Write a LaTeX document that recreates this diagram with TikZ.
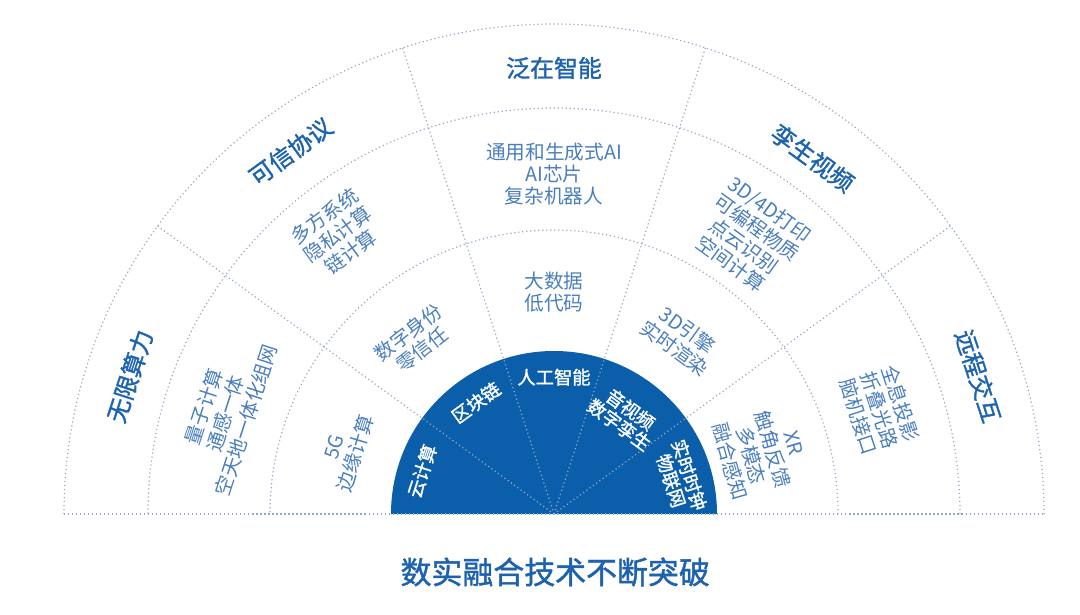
\documentclass[tikz,border=0pt]{standalone}
\usepackage{fontspec}
\setmainfont{Noto Sans CJK SC}
\newfontfamily\cjkmedium[FakeBold=1.4]{Noto Sans CJK SC}
\definecolor{fanblue}{HTML}{0A5EAA}
\definecolor{outerblue}{HTML}{1E63AD}
\definecolor{ringblue}{HTML}{4A7EBD}
\definecolor{titleblue}{HTML}{1C62AE}
\definecolor{dotgrey}{HTML}{93A8C6}
\begin{document}
\begin{tikzpicture}[
  dotline/.style={draw=dotgrey, dotted, line width=0.85pt},
  outerlabel/.style={text=outerblue, font=\cjkmedium\fontsize{17}{19}\selectfont, align=center},
  ringlabel/.style={text=ringblue, font=\fontsize{14}{15.8}\selectfont, align=center},
  corelabel/.style={text=white, font=\cjkmedium\fontsize{13}{13.5}\selectfont, align=center}]
\useasboundingbox (-13.85,-2.5) rectangle (13.15,12.85);

% core half disc
\fill[fanblue] (4.075,0) arc[start angle=0, end angle=180, radius=4.075] -- cycle;

% rings and spokes
\foreach \r in {7.1,10.15,12.25}
  \draw[dotline] (\r,0) arc[start angle=0, end angle=180, radius=\r];
\foreach \a in {36,72,108,144}
  \draw[dotline] (0,0) -- (\a:12.25);
\draw[dotline] (-12.25,0) -- (12.25,0);

% outer ring
\node[outerlabel, rotate=72] (suanli) at (162:11.15) {无限算力};
\node[outerlabel, rotate=36] (xieyi) at (126:11.2) {可信协议};
\node[outerlabel] (zhineng) at (90:11.15) {泛在智能};
\node[outerlabel, rotate=-36] (shipin) at (54:11.0) {孪生视频};
\node[outerlabel, rotate=-72] (jiaohu) at (18:11.15) {远程交互};

% third ring
\node[ringlabel, rotate=72] (zuwang) at (163:8.6) {量子计算\\通感一体\\空天地一体化组网};
\node[ringlabel, rotate=36] (yinsi) at (127.7:8.85) {多方系统\\隐私计算\\链计算};
\node[ringlabel] (aigc) at (90:8.5) {通用和生成式AI\\AI芯片\\复杂机器人};
\node[ringlabel, rotate=-36] (dayin) at (54.7:8.5) {3D/4D打印\\可编程物质\\点云识别\\空间计算};
\node[ringlabel, rotate=-72] (quanxi) at (17.7:8.55) {全息投影\\折叠光路\\脑机接口};

% second ring
\node[ringlabel, rotate=73] (bianyuan) at (163:5.45) {5G\\边缘计算};
\node[ringlabel, rotate=38] (shenfen) at (128.8:5.55) {数字身份\\零信任};
\node[ringlabel] (dashuju) at (90:5.55) {大数据\\低代码};
\node[ringlabel, rotate=-36] (yinqing) at (54:5.4) {3D引擎\\实时渲染};
\node[ringlabel, rotate=-74] (ganzhi) at (16.5:5.4) {XR\\触角反馈\\多模态\\融合感知};

% core
\node[corelabel, rotate=72] (yun) at (162:3.47) {云计算};
\node[corelabel, rotate=36] (qukuai) at (125:3.4) {区块链};
\node[corelabel] (rengong) at (90:3.42) {人工智能};
\node[corelabel, rotate=-36] (yinshipin) at (53.8:3.0) {音视频\\数字孪生};
\node[corelabel, rotate=-72] (wulian) at (16:3.28) {实时时钟\\物联网};

\node[text=titleblue, font=\cjkmedium\fontsize{22}{24}\selectfont] (title) at (0.03,-1.45) {数实融合技术不断突破};
\end{tikzpicture}
\end{document}
